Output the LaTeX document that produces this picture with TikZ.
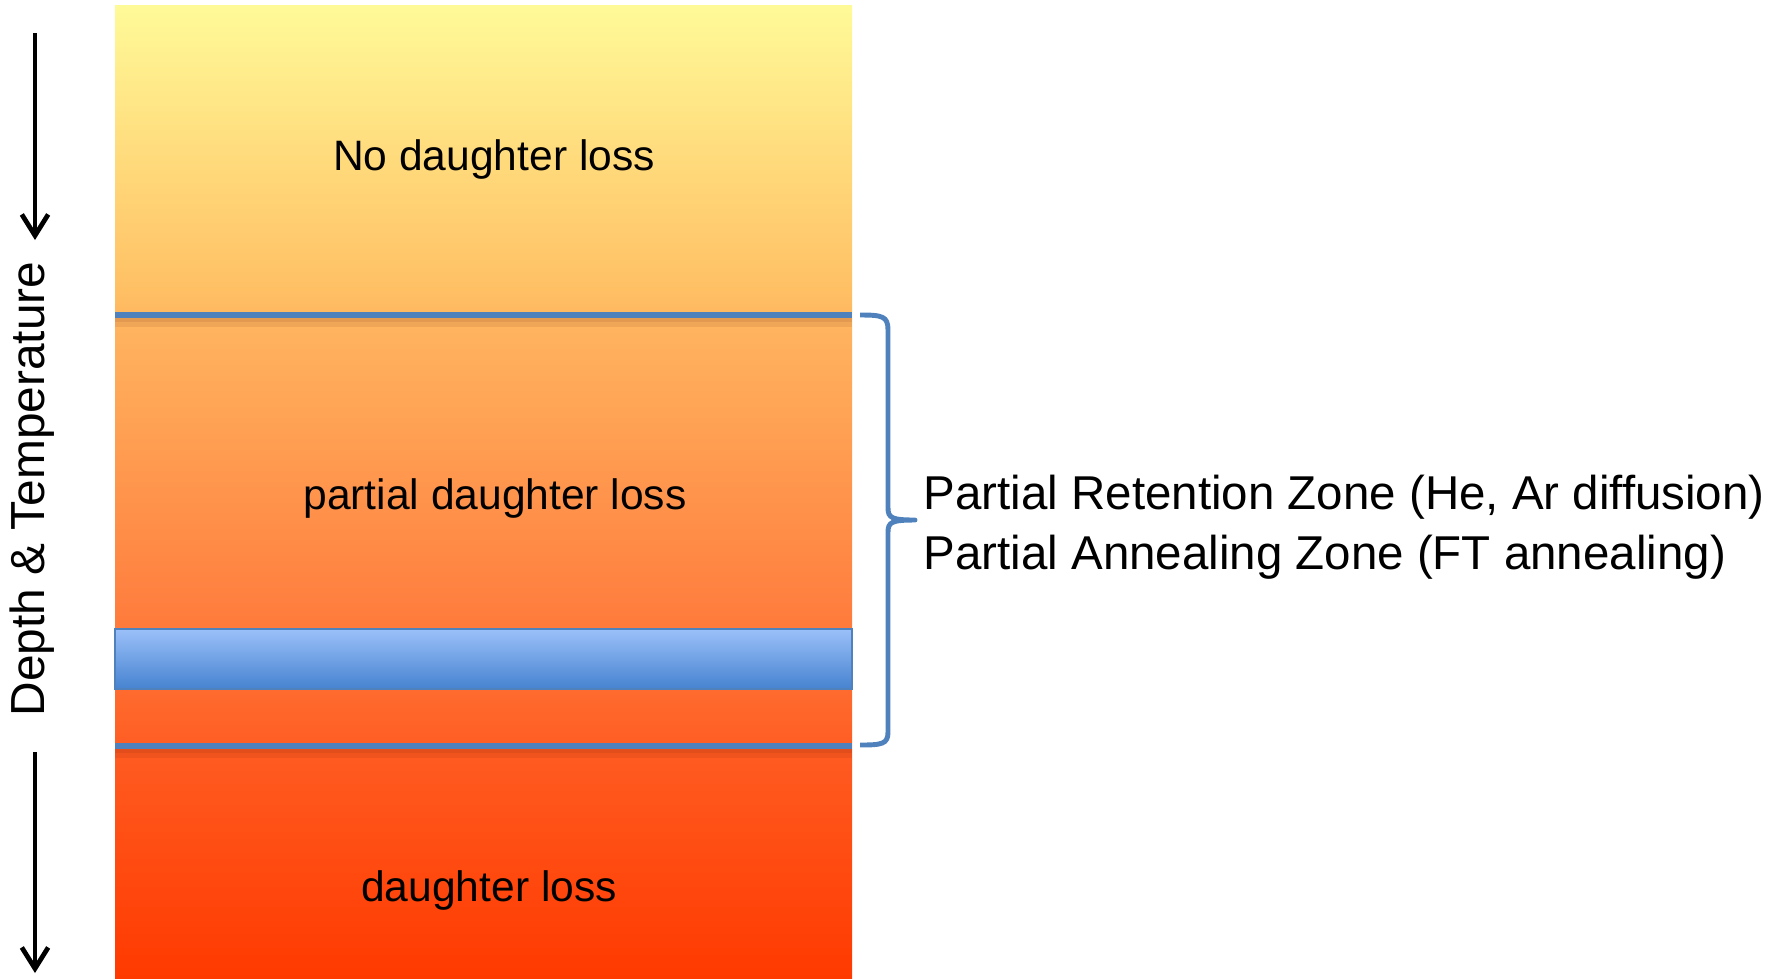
\documentclass[tikz,border=0pt]{standalone}
\usepackage{fontspec}
\setmainfont{Liberation Sans}
\usetikzlibrary{arrows.meta, positioning}

\definecolor{zonetop}{RGB}{255,250,152}
\definecolor{zoneprt}{RGB}{255,192,100}
\definecolor{zoneprb}{RGB}{255,179,94}
\definecolor{zonemid}{RGB}{255,128,64}
\definecolor{zonelow}{RGB}{255,90,32}
\definecolor{zonebot}{RGB}{255,58,0}
\definecolor{bandtop}{RGB}{155,192,249}
\definecolor{bandbot}{RGB}{70,131,208}
\definecolor{linebl}{RGB}{79,129,189}

% temperature column, bottom (hot) to top (cool)
\pgfdeclareverticalshading{depthgrad}{100bp}{color(0bp)=(zonebot); color(25bp)=(zonebot);
  color(36.2bp)=(zonelow); color(44.4bp)=(zonemid); color(58.3bp)=(zoneprb);
  color(60.4bp)=(zoneprt); color(75bp)=(zonetop); color(100bp)=(zonetop)}

\tikzset{
  zone label/.style={font=\fontsize{12.1}{14}\selectfont},
  side label/.style={font=\fontsize{13.6}{16}\selectfont, rotate=90},
  zone text/.style={font=\fontsize{13.5}{17.2}\selectfont, align=left, anchor=west, inner sep=0pt},
  boundary/.style={draw=linebl, line width=1.7pt},
  bracket/.style={draw=linebl, line width=1.4pt, line join=round},
  depth arrow/.style={line width=1.35pt, -{Straight Barb[length=6pt,width=7.5pt]}}
}

\begin{document}
\begin{tikzpicture}[x=0.01cm, y=-0.01cm]
    \useasboundingbox (0,0) rectangle (1783,978);

    % column and the blue band
    \shade[shading=depthgrad] (115,5) rectangle (852,978);
    \shade[top color=bandtop, bottom color=bandbot, draw=linebl, line width=0.5pt] (115,629) rectangle (852,689);

    % zone boundaries with a soft shadow
    \foreach \y in {315,746} {
        \fill[black!70!red, opacity=0.08] (115,\y+2) rectangle (852,\y+12);
        \fill[black!70!red, opacity=0.08] (115,\y+2) rectangle (852,\y+7);
        \draw[boundary] (115,\y) -- (852,\y);
    }

    \node[zone label] (noloss) at (494,159) {No daughter loss};
    \node[zone label] (partial) at (495,498) {partial daughter loss};
    \node[zone label] (loss) at (489,890) {daughter loss};

    \node[side label] (axis) at (32,489) {Depth \& Temperature};
    \coordinate (t0) at (35,33);
    \coordinate (t1) at (35,240);
    \coordinate (b0) at (35,752);
    \coordinate (b1) at (35,973);
    \draw[depth arrow] (t0) -- (t1);
    \draw[depth arrow] (b0) -- (b1);

    % brace round the partial zone
    \coordinate (tip) at (915,520);
    \draw[bracket] (860,315) .. controls (882,315) and (888,316) .. (888,330) -- (888,508)
        .. controls (888,518) and (892,520) .. (tip)
        .. controls (892,520) and (888,522) .. (888,532) -- (888,732)
        .. controls (888,744) and (882,745) .. (860,745);
    \node[zone text] (zones) at (923,527) {Partial Retention Zone (He, Ar diffusion)\\Partial Annealing Zone (FT annealing)};

\end{tikzpicture}
\end{document}
